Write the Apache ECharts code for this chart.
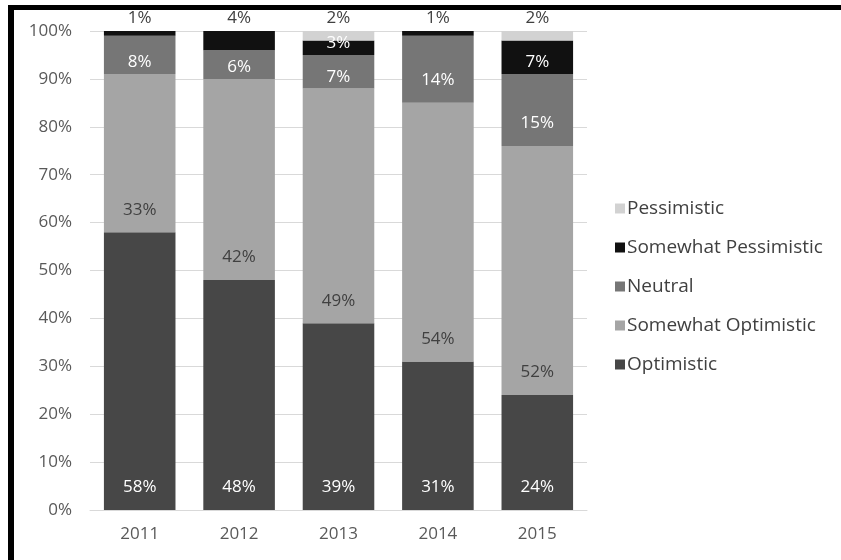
<!DOCTYPE html>
<html>
<head>
<meta charset="utf-8">
<script src="https://cdn.jsdelivr.net/npm/echarts@6/dist/echarts.min.js"></script>
<style>
  html, body { margin: 0; padding: 0; background: #fff; }
  #chart { width: 841px; height: 560px; }
</style>
</head>
<body>
<div id="chart"></div>
<script>
const categories = ['2011', '2012', '2013', '2014', '2015'];
const seriesNames = ['Optimistic', 'Somewhat Optimistic', 'Neutral', 'Somewhat Pessimistic', 'Pessimistic'];
const optimistic = [58, 48, 39, 31, 24];
const somewhatOptimistic = [33, 42, 49, 54, 52];
const neutral = [8, 6, 7, 14, 15];
const somewhatPessimistic = [1, 4, 3, 1, 7];
const pessimistic = [0, 0, 2, 0, 2];
const yTicks = [0, 10, 20, 30, 40, 50, 60, 70, 80, 90, 100];

const allValues = [optimistic, somewhatOptimistic, neutral, somewhatPessimistic, pessimistic];
const colors = ['#474747', '#a5a5a5', '#767676', '#111111', '#d2d2d2'];
const insideLabelColors = ['#ffffff', '#404040', '#ffffff', '#ffffff', '#404040'];
const FONT = '"Open Sans", sans-serif';
const FS = 17;

// index of the topmost non-zero series per category
const topIdx = categories.map((c, i) => {
  let t = 0;
  allValues.forEach((arr, s) => { if (arr[i] > 0) t = s; });
  return t;
});

const series = allValues.map((arr, s) => ({
  name: seriesNames[s],
  type: 'bar',
  stack: 'total',
  barCategoryGap: '28%',
  itemStyle: { color: colors[s] },
  data: arr.map((v, i) => {
    const isTop = topIdx[i] === s;
    let label;
    if (v === 0) {
      label = { show: false };
    } else if (isTop) {
      label = { show: true, position: 'top', distance: 4, color: '#404040' };
    } else {
      label = { show: true, position: 'insideBottom', distance: v >= 14 ? 14 : 3, color: insideLabelColors[s] };
    }
    return { value: v, label: label };
  }),
  label: { fontFamily: FONT, fontSize: FS, formatter: '{c}%' }
}));

const chart = echarts.init(document.getElementById('chart'), null, { renderer: 'canvas' });
chart.setOption({
  backgroundColor: '#ffffff',
  animation: false,
  textStyle: { fontFamily: FONT },
  graphic: [
    { type: 'rect', shape: { x: 8, y: 5, width: 833, height: 5 }, style: { fill: '#000' }, z: 100 },
    { type: 'rect', shape: { x: 8, y: 5, width: 6, height: 555 }, style: { fill: '#000' }, z: 100 }
  ],
  grid: { left: 90, right: 254, top: 31, bottom: 50, containLabel: false },
  legend: {
    orient: 'vertical',
    left: 610,
    top: 194,
    data: seriesNames.slice().reverse(),
    icon: 'rect',
    itemWidth: 10,
    itemHeight: 10,
    itemGap: 20,
    textStyle: { fontFamily: FONT, fontSize: 19, color: '#404040', padding: [0, 0, 0, -3] }
  },
  xAxis: {
    type: 'category',
    data: categories,
    axisLine: { show: true, lineStyle: { color: '#d9d9d9' } },
    axisTick: { show: false },
    axisLabel: { color: '#595959', fontFamily: FONT, fontSize: FS, margin: 16 }
  },
  yAxis: {
    type: 'value',
    min: 0,
    max: 100,
    interval: 10,
    axisLine: { show: false },
    axisTick: { show: false },
    splitLine: { lineStyle: { color: '#d9d9d9', width: 1 } },
    axisLabel: {
      color: '#595959', fontFamily: FONT, fontSize: FS, margin: 18,
      formatter: v => (yTicks.includes(v) ? v + '%' : '')
    }
  },
  series: series
});
</script>
</body>
</html>
